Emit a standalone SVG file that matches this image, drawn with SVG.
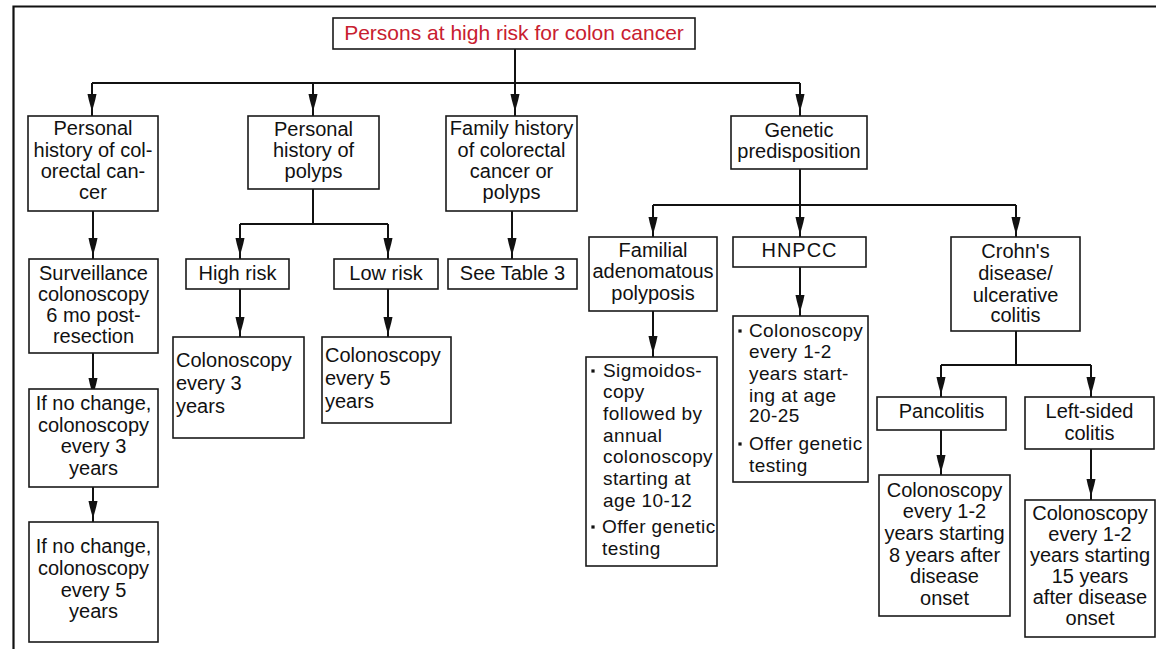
<svg xmlns="http://www.w3.org/2000/svg" xmlns:xlink="http://www.w3.org/1999/xlink" width="1156" height="649" viewBox="0 0 1156 649">
<style>
  .box { fill: #fff; stroke: #1a1a1a; stroke-width: 1.6; }
  .t { font-family: "Liberation Sans", Arial, sans-serif; font-size: 20px; fill: #111; }
  .c { text-anchor: middle; }
  .b { font-size: 19px; letter-spacing: 0.4px; }
  .title { font-size: 21px; fill: #c8202f; }
  .conn path.l { fill: none; stroke: #111; stroke-width: 2; }
  .frame { fill: none; stroke: #111; stroke-width: 2.2; }
</style>
<defs>
  <path id="ah" d="M-4.5,-14 L4.5,-14 L3.2,-8 L1,0 L-1,0 L-3.2,-8 Z" fill="#111"/>
  <rect id="bul" x="-1.6" y="-1.6" width="3.2" height="3.2" fill="#111"/>
</defs>
<rect width="1156" height="649" fill="#fff"/>
<path class="frame" d="M13.5,649 V6.5 H1156"/>

<g id="connectors" class="conn">
  <path class="l" d="M515,49 V116 M92,83 H800 M92,83 V116 M313,83 V116 M800,83 V116"/>
  <path class="l" d="M93,211 V259 M93,353 V389 M93,487 V522"/>
  <path class="l" d="M313,189 V224 M240,224 H388 M240,224 V259 M388,224 V259 M240,289 V337 M388,289 V337"/>
  <path class="l" d="M512,211 V259"/>
  <path class="l" d="M800,169 V205 M653,205 H1016 M653,205 V237 M800,205 V237 M1016,205 V237"/>
  <path class="l" d="M653,311 V357 M800,267 V316"/>
  <path class="l" d="M1016,331 V365 M941,365 H1091 M941,365 V397 M1091,365 V397 M941,430 V475 M1091,449 V500"/>
  <use xlink:href="#ah" x="92" y="108"/>
  <use xlink:href="#ah" x="313" y="108"/>
  <use xlink:href="#ah" x="515" y="108"/>
  <use xlink:href="#ah" x="800" y="108"/>
  <use xlink:href="#ah" x="93" y="252"/>
  <use xlink:href="#ah" x="93" y="392"/>
  <use xlink:href="#ah" x="93" y="515"/>
  <use xlink:href="#ah" x="240" y="252"/>
  <use xlink:href="#ah" x="388" y="252"/>
  <use xlink:href="#ah" x="240" y="331"/>
  <use xlink:href="#ah" x="388" y="331"/>
  <use xlink:href="#ah" x="512" y="252"/>
  <use xlink:href="#ah" x="653" y="231"/>
  <use xlink:href="#ah" x="800" y="231"/>
  <use xlink:href="#ah" x="1016" y="231"/>
  <use xlink:href="#ah" x="653" y="350"/>
  <use xlink:href="#ah" x="800" y="309"/>
  <use xlink:href="#ah" x="941" y="391"/>
  <use xlink:href="#ah" x="1091" y="391"/>
  <use xlink:href="#ah" x="941" y="469"/>
  <use xlink:href="#ah" x="1091" y="493"/>
</g>

<g id="n-title">
  <rect class="box" x="333" y="18" width="362" height="31"/>
  <text class="t c title" x="514" y="40">Persons at high risk for colon cancer</text>
</g>

<g id="n-personal-crc">
  <rect class="box" x="28" y="116" width="130" height="95"/>
  <text class="t c" x="93" y="135">Personal</text>
  <text class="t c" x="93" y="157">history of col-</text>
  <text class="t c" x="93" y="178">orectal can-</text>
  <text class="t c" x="93" y="199">cer</text>
</g>

<g id="n-personal-polyps">
  <rect class="box" x="248" y="116" width="131" height="73"/>
  <text class="t c" x="313.5" y="136">Personal</text>
  <text class="t c" x="313.5" y="157">history of</text>
  <text class="t c" x="313.5" y="178">polyps</text>
</g>

<g id="n-family">
  <rect class="box" x="446" y="116" width="131" height="95"/>
  <text class="t c" x="511.5" y="135">Family history</text>
  <text class="t c" x="511.5" y="157">of colorectal</text>
  <text class="t c" x="511.5" y="178">cancer or</text>
  <text class="t c" x="511.5" y="199">polyps</text>
</g>

<g id="n-genetic">
  <rect class="box" x="731" y="116" width="136" height="53"/>
  <text class="t c" x="799" y="137">Genetic</text>
  <text class="t c" x="799" y="158">predisposition</text>
</g>

<g id="n-surveillance">
  <rect class="box" x="29" y="259" width="129" height="94"/>
  <text class="t c" x="93.5" y="280">Surveillance</text>
  <text class="t c" x="93.5" y="301">colonoscopy</text>
  <text class="t c" x="93.5" y="322">6 mo post-</text>
  <text class="t c" x="93.5" y="343">resection</text>
</g>

<g id="n-nochange3">
  <rect class="box" x="29" y="389" width="129" height="98"/>
  <text class="t c" x="93.5" y="410">If no change,</text>
  <text class="t c" x="93.5" y="432">colonoscopy</text>
  <text class="t c" x="93.5" y="453">every 3</text>
  <text class="t c" x="93.5" y="475">years</text>
</g>

<g id="n-nochange5">
  <rect class="box" x="29" y="522" width="129" height="120"/>
  <text class="t c" x="93.5" y="553">If no change,</text>
  <text class="t c" x="93.5" y="575">colonoscopy</text>
  <text class="t c" x="93.5" y="597">every 5</text>
  <text class="t c" x="93.5" y="618">years</text>
</g>

<g id="n-highrisk">
  <rect class="box" x="186" y="259" width="103" height="30"/>
  <text class="t c" x="237.5" y="280">High risk</text>
</g>

<g id="n-col3">
  <rect class="box" x="173" y="337" width="131" height="101"/>
  <text class="t" x="176" y="367">Colonoscopy</text>
  <text class="t" x="176" y="390">every 3</text>
  <text class="t" x="176" y="413">years</text>
</g>

<g id="n-lowrisk">
  <rect class="box" x="334" y="259" width="104" height="30"/>
  <text class="t c" x="386" y="280">Low risk</text>
</g>

<g id="n-col5">
  <rect class="box" x="322" y="337" width="129" height="86"/>
  <text class="t" x="325" y="362">Colonoscopy</text>
  <text class="t" x="325" y="385">every 5</text>
  <text class="t" x="325" y="408">years</text>
</g>

<g id="n-table3">
  <rect class="box" x="448" y="259" width="129" height="30"/>
  <text class="t c" x="512.5" y="280">See Table 3</text>
</g>

<g id="n-fap">
  <rect class="box" x="589" y="237" width="128" height="74"/>
  <text class="t c" x="653" y="257">Familial</text>
  <text class="t c" x="653" y="278">adenomatous</text>
  <text class="t c" x="653" y="300">polyposis</text>
</g>

<g id="n-fap-rec">
  <rect class="box" x="586" y="357" width="131" height="209"/>
  <use xlink:href="#bul" x="593" y="371"/>
  <text class="t b" x="603" y="377">Sigmoidos-</text>
  <text class="t b" x="603" y="398">copy</text>
  <text class="t b" x="603" y="420">followed by</text>
  <text class="t b" x="603" y="442">annual</text>
  <text class="t b" x="603" y="463">colonoscopy</text>
  <text class="t b" x="603" y="485">starting at</text>
  <text class="t b" x="603" y="507">age 10-12</text>
  <use xlink:href="#bul" x="593" y="527"/>
  <text class="t b" x="602" y="533">Offer genetic</text>
  <text class="t b" x="602" y="555">testing</text>
</g>

<g id="n-hnpcc">
  <rect class="box" x="733" y="237" width="133" height="30"/>
  <text class="t c" x="799.5" y="257" letter-spacing="1">HNPCC</text>
</g>

<g id="n-hnpcc-rec">
  <rect class="box" x="733" y="316" width="135" height="166"/>
  <use xlink:href="#bul" x="740" y="331"/>
  <text class="t b" x="749" y="337">Colonoscopy</text>
  <text class="t b" x="749" y="358">every 1-2</text>
  <text class="t b" x="749" y="380">years start-</text>
  <text class="t b" x="749" y="402">ing at age</text>
  <text class="t b" x="749" y="422">20-25</text>
  <use xlink:href="#bul" x="740" y="444"/>
  <text class="t b" x="749" y="450">Offer genetic</text>
  <text class="t b" x="749" y="472">testing</text>
</g>

<g id="n-crohns">
  <rect class="box" x="951" y="237" width="129" height="94"/>
  <text class="t c" x="1015.5" y="258">Crohn's</text>
  <text class="t c" x="1015.5" y="280">disease/</text>
  <text class="t c" x="1015.5" y="302">ulcerative</text>
  <text class="t c" x="1015.5" y="322">colitis</text>
</g>

<g id="n-pancolitis">
  <rect class="box" x="877" y="397" width="129" height="33"/>
  <text class="t c" x="941.5" y="418">Pancolitis</text>
</g>

<g id="n-pan-rec">
  <rect class="box" x="879" y="475" width="131" height="141"/>
  <text class="t c" x="944.5" y="497">Colonoscopy</text>
  <text class="t c" x="944.5" y="518">every 1-2</text>
  <text class="t c" x="944.5" y="540">years starting</text>
  <text class="t c" x="944.5" y="562">8  years after</text>
  <text class="t c" x="944.5" y="583">disease</text>
  <text class="t c" x="944.5" y="605">onset</text>
</g>

<g id="n-leftsided">
  <rect class="box" x="1025" y="397" width="129" height="52"/>
  <text class="t c" x="1089.5" y="418">Left-sided</text>
  <text class="t c" x="1089.5" y="440">colitis</text>
</g>

<g id="n-left-rec">
  <rect class="box" x="1025" y="500" width="130" height="137"/>
  <text class="t c" x="1090" y="520">Colonoscopy</text>
  <text class="t c" x="1090" y="541">every 1-2</text>
  <text class="t c" x="1090" y="562">years starting</text>
  <text class="t c" x="1090" y="583">15 years</text>
  <text class="t c" x="1090" y="604">after disease</text>
  <text class="t c" x="1090" y="625">onset</text>
</g>
</svg>
